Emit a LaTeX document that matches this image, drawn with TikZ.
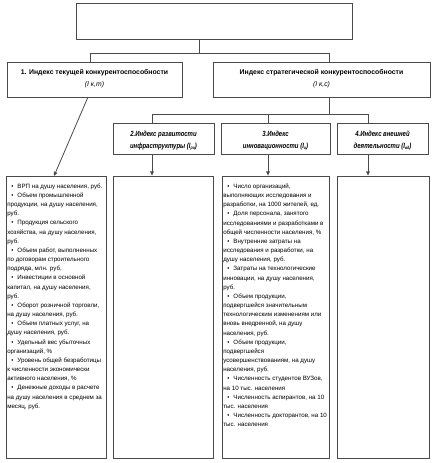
\documentclass[tikz,border=0pt]{standalone}
\usepackage{fontspec}
\setmainfont{Liberation Sans}
\newfontfamily\narrowfont[FakeStretch=0.8]{Liberation Sans}
\usetikzlibrary{arrows.meta}
\definecolor{linec}{HTML}{4A4A4A}
\begin{document}
\begin{tikzpicture}[x=1bp,y=-1bp,
  box/.style={draw=linec, line width=0.8bp, inner sep=0pt, fill=white},
  conn/.style={draw=linec, line width=0.8bp},
  arr/.style={conn, -{Triangle[width=3.6bp,length=4.2bp]}},
  hdr/.style={align=center, inner sep=0pt, font=\fontsize{6.9}{11.8}\selectfont},
  hdrtwo/.style={align=center, inner sep=0pt, font=\narrowfont\fontsize{7.5}{12}\selectfont\bfseries\itshape},
  listtext/.style={align=left, inner sep=0pt, anchor=north west, font=\fontsize{6.2}{9.2}\selectfont}
]
\useasboundingbox (0,0) rectangle (436,463);
\fill[white] (0,0) rectangle (436,463);

% boxes
\node[box, minimum width=276bp, minimum height=36bp] (top) at (214,21) {};
\node[box, minimum width=175bp, minimum height=35bp] (b1) at (94.5,79.5) {};
\node[box, minimum width=217bp, minimum height=35bp] (bs) at (321.5,79.5) {};
\node[box, minimum width=101bp, minimum height=31bp] (b2) at (163.5,138.5) {};
\node[box, minimum width=109bp, minimum height=31bp] (b3) at (275.5,138.5) {};
\node[box, minimum width=91bp, minimum height=31bp] (b4) at (382.5,138.5) {};
\node[box, minimum width=100bp, minimum height=282bp] (l1) at (56,317) {};
\node[box, minimum width=100bp, minimum height=282bp] (l2) at (163,317) {};
\node[box, minimum width=107bp, minimum height=282bp] (l3) at (275.5,317) {};
\node[box, minimum width=92bp, minimum height=282bp] (l4) at (383,317) {};

% header texts
\node[hdr] (h1) at ([yshift=0.5bp]b1.center) {\textbf{1. Индекс текущей конкурентоспособности}\\\textit{(I к,т)}};
\node[hdr] (hs) at ([yshift=0.5bp]bs.center) {\textbf{Индекс стратегической конкурентоспособности}\\\textit{(I к,с)}};
\node[hdrtwo] (h2) at ([yshift=-2bp]b2.center) {2.Индекс развитости\\инфраструктуры (I\raisebox{-1pt}{\fontsize{4.5}{4.5}\selectfont ри})};
\node[hdrtwo] (h3) at ([yshift=-2bp]b3.center) {3.Индекс\\инновационности (I\raisebox{-1pt}{\fontsize{4.5}{4.5}\selectfont и})};
\node[hdrtwo] (h4) at ([yshift=-2bp]b4.center) {4.Индекс внешней\\деятельности (I\raisebox{-1pt}{\fontsize{4.5}{4.5}\selectfont вд})};

% list texts
\node[listtext] (t1) at ([xshift=1.5bp,yshift=-8bp]l1.north west) {%
\hspace*{4bp}•\hspace{4bp}ВРП на душу населения, руб.\\
\hspace*{4bp}•\hspace{4bp}Объем промышленной\\
продукции, на душу населения,\\
руб.\\
\hspace*{4bp}•\hspace{4bp}Продукция сельского\\
хозяйства, на душу населения,\\
руб.\\
\hspace*{4bp}•\hspace{4bp}Объем работ, выполненных\\
по договорам строительного\\
подряда, млн. руб.\\
\hspace*{4bp}•\hspace{4bp}Инвестиции в основной\\
капитал, на душу населения,\\
руб.\\
\hspace*{4bp}•\hspace{4bp}Оборот розничной торговли,\\
на душу населения, руб.\\
\hspace*{4bp}•\hspace{4bp}Объем платных услуг, на\\
душу населения, руб.\\
\hspace*{4bp}•\hspace{4bp}Удельный вес убыточных\\
организаций, \%\\
\hspace*{4bp}•\hspace{4bp}Уровень общей безработицы\\
к численности экономически\\
активного населения, \%\\
\hspace*{4bp}•\hspace{4bp}Денежные доходы в расчете\\
на душу населения в среднем за\\
месяц, руб.};

\node[listtext] (t3) at ([xshift=1.5bp,yshift=-8bp]l3.north west) {%
\hspace*{4bp}•\hspace{4bp}Число организаций,\\
выполняющих исследования и\\
разработки, на 1000 жителей, ед.\\
\hspace*{4bp}•\hspace{4bp}Доля персонала, занятого\\
исследованиями и разработками в\\
общей численности населения, \%\\
\hspace*{4bp}•\hspace{4bp}Внутренние затраты на\\
исследования и разработки, на\\
душу населения, руб.\\
\hspace*{4bp}•\hspace{4bp}Затраты на технологические\\
инновации, на душу населения,\\
руб.\\
\hspace*{4bp}•\hspace{4bp}Объем продукции,\\
подвергшейся значительным\\
технологическим изменениям или\\
вновь внедренной, на душу\\
населения, руб.\\
\hspace*{4bp}•\hspace{4bp}Объем продукции,\\
подвергшейся\\
усовершенствованиям, на душу\\
населения, руб.\\
\hspace*{4bp}•\hspace{4bp}Численность студентов ВУЗов,\\
на 10 тыс. населения\\
\hspace*{4bp}•\hspace{4bp}Численность аспирантов, на 10\\
тыс. населения\\
\hspace*{4bp}•\hspace{4bp}Численность докторантов, на 10\\
тыс. населения};

% connectors
\coordinate (j0) at (199,53);
\coordinate (jL) at (90,53);
\coordinate (jR) at (329,53);
\draw[conn] (j0 |- top.south) -- (j0);
\draw[conn] (b1.north -| jL) -- (jL) -- (jR) -- (bs.north -| jR);

\coordinate (k0) at (329,114);
\coordinate (kL) at (152,114);
\coordinate (kM) at (268,114);
\coordinate (kR) at (368,114);
\draw[conn] (k0 |- bs.south) -- (k0);
\draw[conn] (b2.north -| kL) -- (kL) -- (kR) -- (b4.north -| kR);
\draw[conn] (kM) -- (b3.north -| kM);

\coordinate (d1) at (88,97);
\coordinate (e1) at (54,176);
\draw[arr] (d1) -- (e1);
\draw[arr] (b2.south -| kL) -- (l2.north -| kL);
\draw[arr] (b3.south -| kM) -- (l3.north -| kM);
\draw[arr] (b4.south -| kR) -- (l4.north -| kR);
\end{tikzpicture}
\end{document}
